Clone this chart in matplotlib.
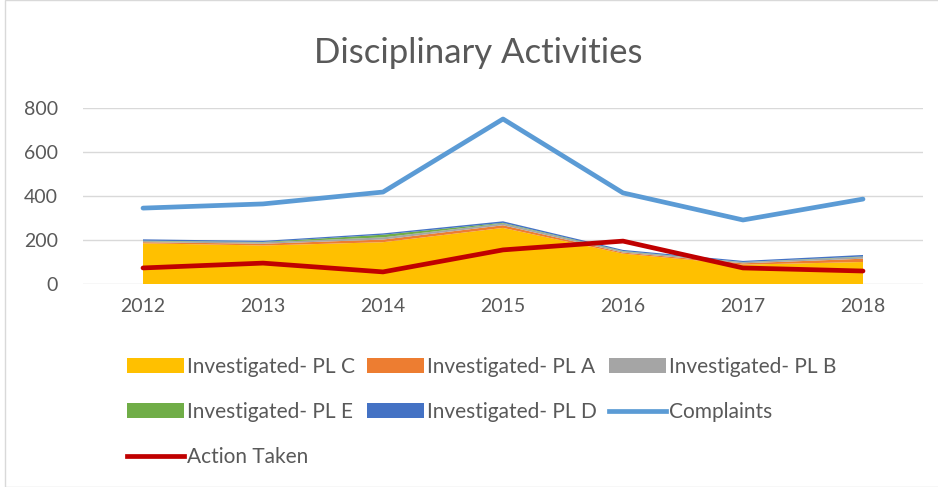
import matplotlib.pyplot as plt
from matplotlib.patches import Patch, Rectangle
from matplotlib.lines import Line2D

plt.rcParams['font.family'] = ['Lato', 'DejaVu Sans']

years = ['2012', '2013', '2014', '2015', '2016', '2017', '2018']
inv_c = [185, 175, 190, 255, 138, 88, 100]
inv_a = [5, 8, 12, 12, 5, 6, 15]
inv_b = [5, 6, 10, 8, 5, 5, 8]
inv_e = [2, 2, 12, 3, 2, 1, 2]
inv_d = [6, 5, 6, 7, 5, 5, 7]
complaints = [345, 364, 418, 750, 414, 291, 386]
action_taken = [73, 95, 55, 155, 195, 73, 59]

area_labels = ['Investigated- PL C', 'Investigated- PL A', 'Investigated- PL B',
               'Investigated- PL E', 'Investigated- PL D']
area_colors = ['#FFC000', '#ED7D31', '#A5A5A5', '#70AD47', '#4472C4']

fig = plt.figure(figsize=(9.38, 4.87), dpi=100)
ax = fig.add_axes([83 / 938, 1 - 284 / 487, (923 - 83) / 938, (284 - 108) / 487])

x = list(range(len(years)))
ax.stackplot(x, inv_c, inv_a, inv_b, inv_e, inv_d, colors=area_colors, linewidth=0)
ax.plot(x, complaints, color='#5B9BD5', lw=3.4, solid_capstyle='round', solid_joinstyle='round')
ax.plot(x, action_taken, color='#C00000', lw=3.4, solid_capstyle='round', solid_joinstyle='round')

ax.set_xlim(-0.5, 6.5)
ax.set_ylim(0, 800)
ax.set_yticks([0, 200, 400, 600, 800])
ax.set_xticks(x)
ax.set_xticklabels(years)
ax.grid(axis='y', color='#D9D9D9', lw=1)
ax.set_axisbelow(True)
for s in ax.spines.values():
    s.set_visible(False)
ax.tick_params(length=0, labelsize=14, colors='#595959', pad=10)
ax.tick_params(axis='y', pad=18)

fig.text(0.51, 1 - 53 / 487, 'Disciplinary Activities', ha='center', va='center',
         fontsize=25, color='#595959')

h = {l: Patch(facecolor=c, label=l) for c, l in zip(area_colors, area_labels)}
h['Complaints'] = Line2D([], [], color='#5B9BD5', lw=3.4, label='Complaints')
h['Action Taken'] = Line2D([], [], color='#C00000', lw=3.4, label='Action Taken')
# matplotlib fills legend column by column, so order to get rows like the original
order = ['Investigated- PL C', 'Investigated- PL E', 'Action Taken',
         'Investigated- PL A', 'Investigated- PL D',
         'Investigated- PL B', 'Complaints']
fig.legend(handles=[h[k] for k in order], ncol=3, loc='upper left',
           bbox_to_anchor=(127 / 938, 1 - 357 / 487),
           frameon=False, fontsize=15, labelcolor='#595959', handlelength=2.75,
           handleheight=0.75, handletextpad=0.15, columnspacing=0.55, labelspacing=1.2,
           borderaxespad=0, borderpad=0)

fig.patches.append(Rectangle((5 / 938, 0), 1, 1, transform=fig.transFigure,
                             fill=False, edgecolor='#D9D9D9', lw=1))

fig.savefig('out.png')
